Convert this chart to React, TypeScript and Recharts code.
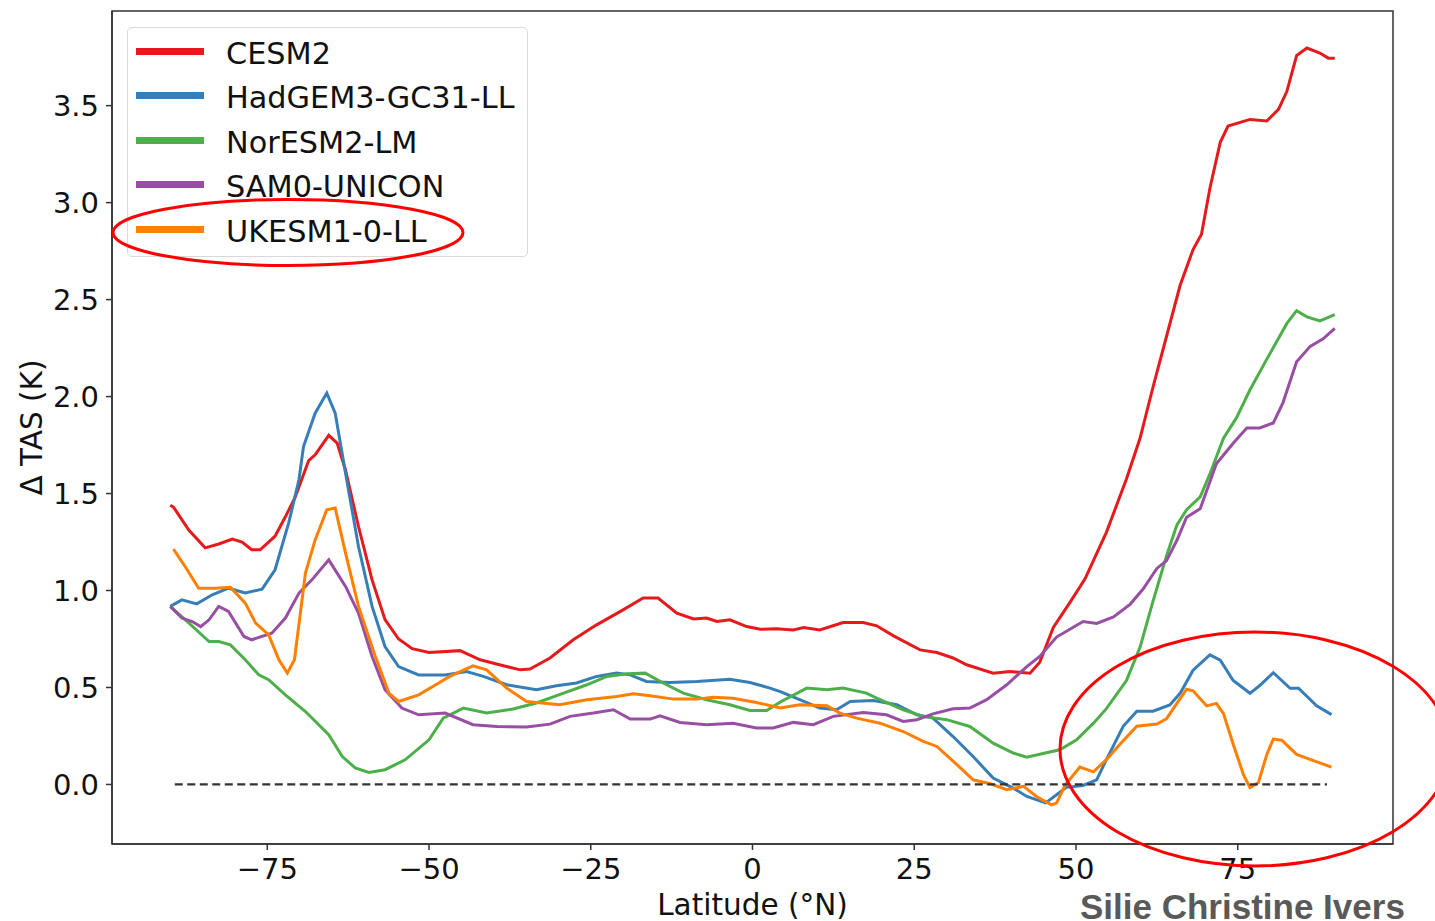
import React from 'react';
import { LineChart, Line, XAxis, YAxis, Legend, ReferenceArea } from 'recharts';

// axis ranges / ticks
const X_DOMAIN = [-99, 99];
const Y_DOMAIN = [-0.307, 3.988];
const X_TICKS = [-75, -50, -25, 0, 25, 50, 75];
const Y_TICKS = [0, 0.5, 1, 1.5, 2, 2.5, 3, 3.5];

// [latitude, delta TAS] pairs, one array per model
const CESM2: [number, number][] = [
  [-90, 1.44], [-89.5, 1.43], [-87.1, 1.31], [-84.6, 1.22], [-82.5, 1.24], [-80.4, 1.265],
  [-78.9, 1.25], [-77.4, 1.21], [-76.1, 1.21], [-73.8, 1.28], [-72.2, 1.38], [-70.7, 1.48],
  [-68.6, 1.67], [-67.6, 1.7], [-65.5, 1.8], [-64.2, 1.76], [-62.9, 1.62], [-60.9, 1.33],
  [-58.8, 1.055], [-56.8, 0.85], [-54.7, 0.75], [-52.6, 0.7], [-50, 0.68], [-45.2, 0.69],
  [-42.1, 0.643], [-38.5, 0.612], [-35.9, 0.591], [-34.4, 0.595], [-31.3, 0.652], [-27.7, 0.746],
  [-24.1, 0.823], [-20, 0.9], [-16.9, 0.961], [-14.6, 0.961], [-11.7, 0.883], [-9.1, 0.853],
  [-7.1, 0.858], [-5.5, 0.84], [-3.5, 0.849], [-0.9, 0.814], [1.2, 0.8], [3.7, 0.803],
  [6.3, 0.797], [7.9, 0.809], [10.4, 0.797], [14, 0.835], [17.1, 0.835], [19.2, 0.818],
  [21.8, 0.766], [25.9, 0.694], [28.5, 0.68], [31, 0.652], [33.1, 0.617], [37.2, 0.574],
  [39.8, 0.582], [42.9, 0.574], [44.4, 0.63], [46.5, 0.81], [49.1, 0.94], [51.4, 1.06],
  [54.7, 1.3], [57.8, 1.575], [59.9, 1.785], [61.9, 2.048], [64, 2.311], [66.1, 2.574],
  [68.1, 2.758], [69.4, 2.837], [70.7, 3.074], [72.3, 3.311], [73.5, 3.395], [76.9, 3.429],
  [79.5, 3.421], [81.3, 3.481], [82.6, 3.574], [84.1, 3.758], [85.7, 3.797], [87.7, 3.771],
  [89, 3.745], [90, 3.745],
];

const HADGEM3: [number, number][] = [
  [-90, 0.918], [-88.2, 0.952], [-85.9, 0.931], [-83.5, 0.978], [-81, 1.012], [-78.4, 0.987],
  [-75.8, 1.007], [-73.8, 1.107], [-71.7, 1.347], [-70.1, 1.571], [-69.4, 1.742], [-67.6, 1.914],
  [-65.8, 2.018], [-64.5, 1.914], [-62.9, 1.605], [-60.9, 1.227], [-58.8, 0.918], [-56.8, 0.711],
  [-54.7, 0.608], [-51.6, 0.565], [-47.5, 0.565], [-44.2, 0.582], [-41.6, 0.557], [-38, 0.514],
  [-33.4, 0.488], [-30.3, 0.509], [-27.2, 0.523], [-24.1, 0.557], [-21, 0.574], [-18.9, 0.565],
  [-16.4, 0.531], [-12.8, 0.526], [-8.6, 0.531], [-3.5, 0.543], [-0.4, 0.526], [2.7, 0.497],
  [4.3, 0.479], [7.3, 0.437], [10.4, 0.394], [13, 0.385], [15.1, 0.428], [18.7, 0.433],
  [22.3, 0.411], [25.4, 0.359], [27.9, 0.342], [31, 0.247], [34.1, 0.144], [37.2, 0.033],
  [40.3, -0.019], [42.4, -0.062], [45.3, -0.095], [47, -0.053], [48.5, -0.015], [51.1, -0.005],
  [53.2, 0.024], [54.7, 0.128], [57.3, 0.3], [59.4, 0.378], [61.9, 0.378], [64.5, 0.41],
  [66.1, 0.47], [68.1, 0.589], [70.7, 0.668], [72.3, 0.641], [74.3, 0.536], [76.9, 0.47],
  [78.4, 0.51], [80.5, 0.576], [83.1, 0.496], [84.4, 0.496], [87.2, 0.405], [89.5, 0.36],
];

const NORESM2: [number, number][] = [
  [-90, 0.918], [-87.1, 0.832], [-84, 0.737], [-82.5, 0.737], [-80.7, 0.72], [-78.4, 0.643],
  [-76.3, 0.565], [-74.8, 0.54], [-72.2, 0.462], [-69.1, 0.376], [-65.5, 0.256], [-63.4, 0.144],
  [-61.4, 0.085], [-59.3, 0.062], [-56.8, 0.076], [-53.7, 0.127], [-50, 0.23], [-47.8, 0.342],
  [-44.7, 0.394], [-41.1, 0.368], [-37, 0.389], [-33.4, 0.42], [-29.2, 0.471], [-25.6, 0.514],
  [-22.5, 0.557], [-19.4, 0.571], [-16.6, 0.574], [-13.8, 0.523], [-10.7, 0.471], [-7.1, 0.437],
  [-3.5, 0.411], [-0.4, 0.381], [2.2, 0.381], [4.3, 0.425], [8.4, 0.497], [11.5, 0.488],
  [14, 0.497], [17.6, 0.471], [19.2, 0.445], [23.3, 0.385], [26.4, 0.351], [30, 0.334],
  [33.6, 0.299], [37.2, 0.213], [40.3, 0.162], [42.4, 0.141], [44.9, 0.16], [47.5, 0.179],
  [50.1, 0.23], [52.7, 0.316], [54.7, 0.391], [57.8, 0.536], [59.9, 0.707], [61.9, 0.944],
  [64, 1.18], [65.6, 1.338], [67.1, 1.417], [69.2, 1.483], [70.7, 1.601], [72.8, 1.785],
  [74.8, 1.89], [76.9, 2.035], [79.5, 2.193], [82.6, 2.377], [84.1, 2.443], [85.7, 2.411],
  [87.7, 2.39], [90, 2.422],
];

const SAM0: [number, number][] = [
  [-90, 0.918], [-88.2, 0.858], [-86.6, 0.84], [-85.3, 0.814], [-84, 0.849], [-82.5, 0.918],
  [-81, 0.892], [-78.6, 0.763], [-77.4, 0.746], [-74.3, 0.78], [-72.2, 0.858], [-70.1, 0.987],
  [-68.1, 1.055], [-65.5, 1.158], [-62.9, 1.021], [-60.9, 0.884], [-58.8, 0.66], [-56.8, 0.488],
  [-54.2, 0.394], [-51.6, 0.359], [-47.5, 0.368], [-43.2, 0.308], [-39.5, 0.299], [-34.9, 0.296],
  [-31.3, 0.311], [-28.2, 0.351], [-24.6, 0.368], [-21.5, 0.385], [-18.9, 0.337], [-15.8, 0.337],
  [-14.3, 0.354], [-11.2, 0.32], [-7.1, 0.308], [-3, 0.316], [0.6, 0.291], [3.2, 0.291],
  [6.3, 0.32], [9.4, 0.308], [12.5, 0.351], [17.1, 0.371], [20.7, 0.359], [23.3, 0.325],
  [25.4, 0.334], [27.9, 0.364], [31, 0.39], [33.6, 0.394], [36.2, 0.437], [39.3, 0.514],
  [42.4, 0.608], [44.4, 0.66], [47, 0.76], [51.1, 0.84], [53.2, 0.83], [55.8, 0.864],
  [58.4, 0.93], [60.4, 1.009], [62.5, 1.114], [64, 1.154], [65.6, 1.259], [67.1, 1.378],
  [69.2, 1.422], [71.7, 1.654], [74.3, 1.759], [76.4, 1.838], [78.4, 1.838], [80.5, 1.864],
  [82, 1.969], [84.1, 2.18], [86.2, 2.259], [88.2, 2.298], [90, 2.351],
];

const UKESM1: [number, number][] = [
  [-89.5, 1.213], [-87.7, 1.124], [-85.6, 1.012], [-83, 1.012], [-80.7, 1.017], [-78.4, 0.935],
  [-76.8, 0.832], [-74.8, 0.772], [-73.2, 0.643], [-71.9, 0.574], [-70.8, 0.643], [-69.1, 1.09],
  [-67.6, 1.261], [-65.8, 1.416], [-64.5, 1.425], [-62.9, 1.193], [-60.9, 0.918], [-58.3, 0.66],
  [-56.2, 0.471], [-54.7, 0.428], [-51.6, 0.462], [-48.5, 0.523], [-46.8, 0.557], [-43.2, 0.612],
  [-41.1, 0.591], [-38, 0.497], [-34.9, 0.428], [-29.8, 0.411], [-25.6, 0.437], [-21, 0.454],
  [-18.4, 0.468], [-15.8, 0.457], [-12.2, 0.44], [-8.6, 0.44], [-6.1, 0.45], [-3, 0.445],
  [0.6, 0.423], [4.3, 0.394], [7.3, 0.411], [11.5, 0.406], [13.5, 0.368], [16.1, 0.342],
  [19.7, 0.316], [23.3, 0.273], [26.4, 0.222], [28.5, 0.196], [31.6, 0.102], [34.1, 0.024],
  [36.7, 0.004], [39.3, -0.027], [41.9, -0.01], [43.9, -0.062], [46.2, -0.105], [47, -0.096],
  [48.3, -0.005], [50.6, 0.09], [52.7, 0.065], [54.7, 0.128], [56.8, 0.207], [59.4, 0.3],
  [62.5, 0.312], [64, 0.339], [65.6, 0.418], [67.1, 0.491], [68.1, 0.483], [70.2, 0.405],
  [71.7, 0.418], [72.8, 0.365], [74.3, 0.207], [75.9, 0.049], [76.9, -0.016], [78.2, 0.01],
  [79.5, 0.155], [80.5, 0.234], [81.8, 0.228], [84.1, 0.155], [86.7, 0.123], [89.5, 0.089],
];

// dashed zero reference
const ZERO_LINE: [number, number][] = [[-89.3, 0], [88.8, 0]];

const SERIES = [
  { name: 'CESM2', color: '#e41a1c', points: CESM2 },
  { name: 'HadGEM3-GC31-LL', color: '#377eb8', points: HADGEM3 },
  { name: 'NorESM2-LM', color: '#4daf4a', points: NORESM2 },
  { name: 'SAM0-UNICON', color: '#984ea3', points: SAM0 },
  { name: 'UKESM1-0-LL', color: '#ff7f00', points: UKESM1 },
];
const SERIES_NAMES = SERIES.map((s) => s.name);

const FONT = '"DejaVu Sans", sans-serif';
const toRows = (pts: [number, number][]) => pts.map(([lat, dtas]) => ({ lat, dtas }));
const fmtX = (v: number) => (v < 0 ? '\u2212' + Math.abs(v) : String(v));
const fmtY = (v: number) => v.toFixed(1);

const tickStyle = { fill: '#111', fontSize: 29, fontFamily: FONT };

const xLabel = (props: any) => {
  const vb = props.viewBox ?? { x: 112, y: 844, width: 1281, height: 40 };
  return (
    <text x={vb.x + vb.width / 2} y={vb.y + 71} textAnchor="middle" fontSize={29.5} fontFamily={FONT} fill="#111">
      Latitude (°N)
    </text>
  );
};

const yLabel = (props: any) => {
  const vb = props.viewBox ?? { x: 62, y: 11, width: 50, height: 833 };
  const x = vb.x - 20;
  const y = vb.y + vb.height / 2;
  return (
    <text x={x} y={y} transform={`rotate(-90, ${x}, ${y})`} textAnchor="middle" fontSize={29.5} fontFamily={FONT} fill="#111">
      Δ TAS (K)
    </text>
  );
};

const LegendBox = ({ payload }: any) => (
  <div
    style={{
      width: 401,
      height: 230,
      boxSizing: 'border-box',
      border: '1px solid #d9d9d9',
      borderRadius: 5,
      background: 'rgba(255,255,255,0.8)',
      paddingTop: 1,
      fontFamily: FONT,
    }}
  >
    {(payload || [])
      .filter((item: any) => item.type !== 'none' && SERIES_NAMES.includes(item.value))
      .map((item: any) => (
        <div key={item.value} style={{ display: 'flex', alignItems: 'center', height: 44.5 }}>
          <span style={{ display: 'inline-block', width: 68, height: 7, marginLeft: 8, background: item.color }} />
          <span style={{ marginLeft: 22, fontSize: 30.3, color: '#111', position: 'relative', top: 2 }}>{item.value}</span>
        </div>
      ))}
  </div>
);

export default function App() {
  return (
    <div style={{ position: 'absolute', left: 0, top: 0, width: 1435, height: 921, overflow: 'hidden', background: '#fff' }}>
      <LineChart width={1435} height={921} margin={{ top: 11, right: 42, bottom: 37, left: 62 }}>
        <XAxis
          type="number"
          dataKey="lat"
          domain={X_DOMAIN}
          ticks={X_TICKS}
          allowDataOverflow
          tickFormatter={fmtX}
          height={40}
          tickSize={6}
          tickMargin={8}
          stroke="#333"
          strokeWidth={1.5}
          tick={tickStyle}
          label={{ content: xLabel }}
        />
        <YAxis
          type="number"
          dataKey="dtas"
          domain={Y_DOMAIN}
          ticks={Y_TICKS}
          allowDataOverflow
          tickFormatter={fmtY}
          width={50}
          tickSize={6}
          tickMargin={7}
          stroke="#333"
          strokeWidth={1.5}
          tick={tickStyle}
          label={{ content: yLabel }}
        />
        {/* axes frame (top and right spines) */}
        <ReferenceArea
          x1={X_DOMAIN[0]}
          x2={X_DOMAIN[1]}
          y1={Y_DOMAIN[0]}
          y2={Y_DOMAIN[1]}
          fill="none"
          fillOpacity={0}
          stroke="#333"
          strokeWidth={1.5}
          ifOverflow="visible"
        />
        {SERIES.map((s) => (
          <Line
            key={s.name}
            data={toRows(s.points)}
            dataKey="dtas"
            name={s.name}
            type="linear"
            stroke={s.color}
            strokeWidth={3}
            dot={false}
            activeDot={false}
            isAnimationActive={false}
          />
        ))}
        <Line
          data={toRows(ZERO_LINE)}
          dataKey="dtas"
          name="zero"
          type="linear"
          stroke="#333"
          strokeWidth={2.2}
          strokeDasharray="8 4.5"
          dot={false}
          activeDot={false}
          legendType="none"
          isAnimationActive={false}
        />
        <Legend
          layout="vertical"
          align="center"
          verticalAlign="middle"
          wrapperStyle={{ left: 127, top: 27, width: 401, height: 230 }}
          content={LegendBox}
        />
      </LineChart>
      {/* hand-drawn highlight rings and presenter name from the slide */}
      <svg width={1435} height={921} style={{ position: 'absolute', left: 0, top: 0, pointerEvents: 'none' }}>
        <ellipse cx={288} cy={232.5} rx={175} ry={33} fill="none" stroke="#f00" strokeWidth={3} />
        <ellipse cx={1255} cy={749} rx={195} ry={117} fill="none" stroke="#f00" strokeWidth={3} />
        <text x={1080} y={919} fontFamily='"Liberation Sans", Arial, sans-serif' fontWeight="bold" fontSize={35} fill="#595959">
          Silie Christine Ivers
        </text>
      </svg>
    </div>
  );
}
